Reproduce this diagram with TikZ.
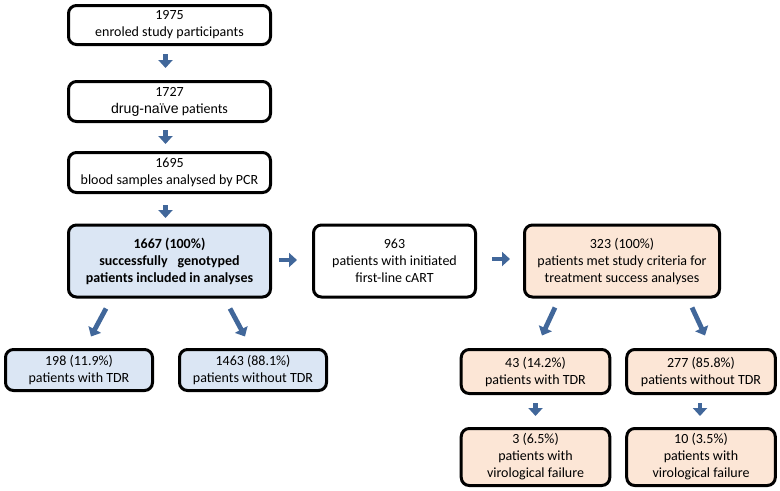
\documentclass[tikz,border=0pt]{standalone}
\usepackage{fontspec}
\setmainfont{Carlito}
\newfontfamily\arialfont{Liberation Sans}
\usetikzlibrary{arrows.meta}

\definecolor{arrowblue}{RGB}{65,103,154}
\definecolor{lightblue}{RGB}{219,230,244}
\definecolor{lightorange}{RGB}{252,230,214}

\tikzset{
  box/.style={draw, line width=2.25pt, rounded corners=6pt, align=center,
    inner sep=1pt, font=\fontsize{10.5}{12.75}\selectfont},
  bluebox/.style={box, fill=lightblue},
  orangebox/.style={box, fill=lightorange},
  arr/.style={draw=arrowblue, line width=3.6pt,
    -{Triangle[length=6pt,width=10.5pt]}}
}

\begin{document}
\begin{tikzpicture}[x=0.75pt,y=-0.75pt]
\def\blockarrow#1#2#3{\draw[arr] (#1) ++(#2) -- ++(#3);}
\useasboundingbox (0,0) rectangle (780,490);

% main column
\node[box, minimum width=151.5pt, minimum height=29.25pt] at (169.5,25) (enroled) {1975\\enroled study participants};
\node[box, minimum width=151.5pt, minimum height=30pt] at (169.5,101.5) (naive) {1727\\{\arialfont\fontsize{10.6}{12.75}\selectfont drug-na\"ive} patients};
\node[box, minimum width=151.5pt, minimum height=30pt] at (169.5,172.5) (pcr) {1695\\blood samples analysed by PCR};
\node[bluebox, minimum width=151.5pt, minimum height=54pt, font=\fontsize{10.5}{12.75}\selectfont\bfseries] at (169.5,261) (geno) {1667 (100\%)\\successfully\hspace{0.7em}genotyped\\patients included in analyses};
\node[box, minimum width=121.5pt, minimum height=54pt] at (394.5,261) (cart) {963\\patients with initiated\\first-line cART};
\node[orangebox, minimum width=146.25pt, minimum height=54pt] at (622,261) (crit) {323 (100\%)\\patients met study criteria for\\treatment success analyses};

% left branch
\node[bluebox, minimum width=110.25pt, minimum height=30.75pt] at (79,370) (gtdr) {198 (11.9\%)\\patients with TDR};
\node[bluebox, minimum width=110.25pt, minimum height=30.75pt] at (253,370) (gnotdr) {1463 (88.1\%)\\patients without TDR};

% right branch
\node[orangebox, minimum width=111.4pt, minimum height=33pt] at (535.5,371.5) (ctdr) {43 (14.2\%)\\patients with TDR};
\node[orangebox, minimum width=111.4pt, minimum height=33pt] at (701,371.5) (cnotdr) {277 (85.8\%)\\patients without TDR};
\node[orangebox, minimum width=111.4pt, minimum height=42.75pt] at (535.5,457) (vtdr) {3 (6.5\%)\\patients with\\virological failure};
\node[orangebox, minimum width=111.4pt, minimum height=42.75pt] at (701,457) (vnotdr) {10 (3.5\%)\\patients with\\virological failure};

% arrows
\blockarrow{enroled.south}{-4,8}{0,14}
\blockarrow{naive.south}{-4,7}{0,14}
\blockarrow{pcr.south}{-4,11}{0,13}
\blockarrow{geno.east}{7,-1}{18,0}
\blockarrow{cart.east}{15,-2}{18,0}
\blockarrow{geno.south}{-63.5,10}{-15,28}
\blockarrow{geno.south}{60.5,10}{15,28}
\blockarrow{crit.south}{-67,9}{-13,28}
\blockarrow{crit.south}{70,9}{13,28}
\blockarrow{ctdr.south}{0,8}{0,13}
\blockarrow{cnotdr.south}{-1,8}{0,13}
\end{tikzpicture}
\end{document}
